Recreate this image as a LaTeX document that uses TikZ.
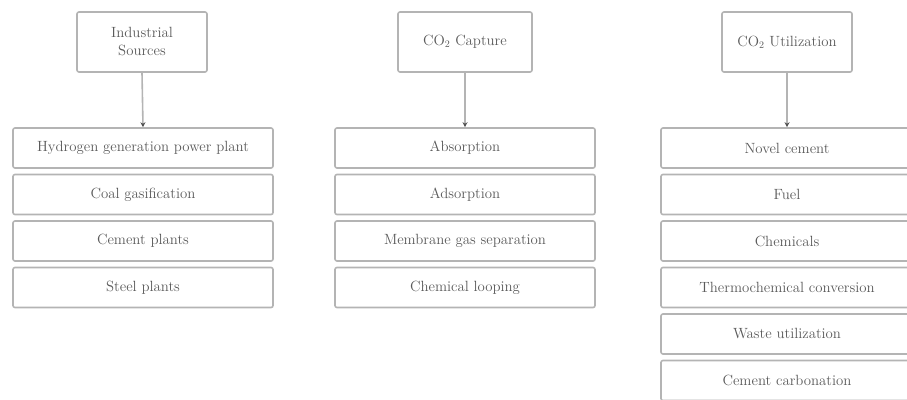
\documentclass[tikz,border=0pt]{standalone}
\usetikzlibrary{arrows.meta}
\definecolor{boxgray}{HTML}{B4B4B4}
\definecolor{txtgray}{HTML}{5A5A5A}
\definecolor{tipgray}{HTML}{505050}
\begin{document}
\begin{tikzpicture}[x=1pt,y=-1pt,
  box/.style={draw=boxgray, line width=1.6pt, rounded corners=2pt, fill=white,
    text=txtgray, font=\fontsize{14.8}{18}\selectfont, align=center, inner sep=0pt},
  head/.style={box, minimum width=130pt, minimum height=60pt},
  item/.style={box, minimum width=260pt, minimum height=40pt},
  wideitem/.style={item, minimum width=252pt},
  link/.style={draw=boxgray, line width=1.6pt,
    -{Stealth[length=5pt,width=5pt,color=tipgray]}}]
\useasboundingbox (0,0) rectangle (907,399);
\clip (0,0) rectangle (907,399);

% column headers
\node[head] (src) at (142,42) {Industrial\\Sources};
\node[head, minimum width=134pt] (cap) at (465,42) {CO$_2$ Capture};
\node[head] (use) at (787,42) {CO$_2$ Utilization};

% industrial sources
\node[item] (s1) at (143,148)   {Hydrogen generation power plant};
\node[item] (s2) at (143,194.5) {Coal gasification};
\node[item] (s3) at (143,241)   {Cement plants};
\node[item] (s4) at (143,287.5) {Steel plants};

% capture technologies
\node[item] (c1) at (465,148)   {Absorption};
\node[item] (c2) at (465,194.5) {Adsorption};
\node[item] (c3) at (465,241)   {Membrane gas separation};
\node[item] (c4) at (465,287.5) {Chemical looping};

% utilization routes
\node[wideitem] (u1) at (787,148)   {Novel cement};
\node[wideitem] (u2) at (787,194.5) {Fuel};
\node[wideitem] (u3) at (787,241)   {Chemicals};
\node[wideitem] (u4) at (787,287.5) {Thermochemical conversion};
\node[wideitem] (u5) at (787,334)   {Waste utilization};
\node[wideitem] (u6) at (787,380.5) {Cement carbonation};

% header-to-list arrows
\draw[link] (src.south) -- (s1.north);
\draw[link] (cap.south) -- (c1.north);
\draw[link] (use.south) -- (u1.north);
\end{tikzpicture}
\end{document}
